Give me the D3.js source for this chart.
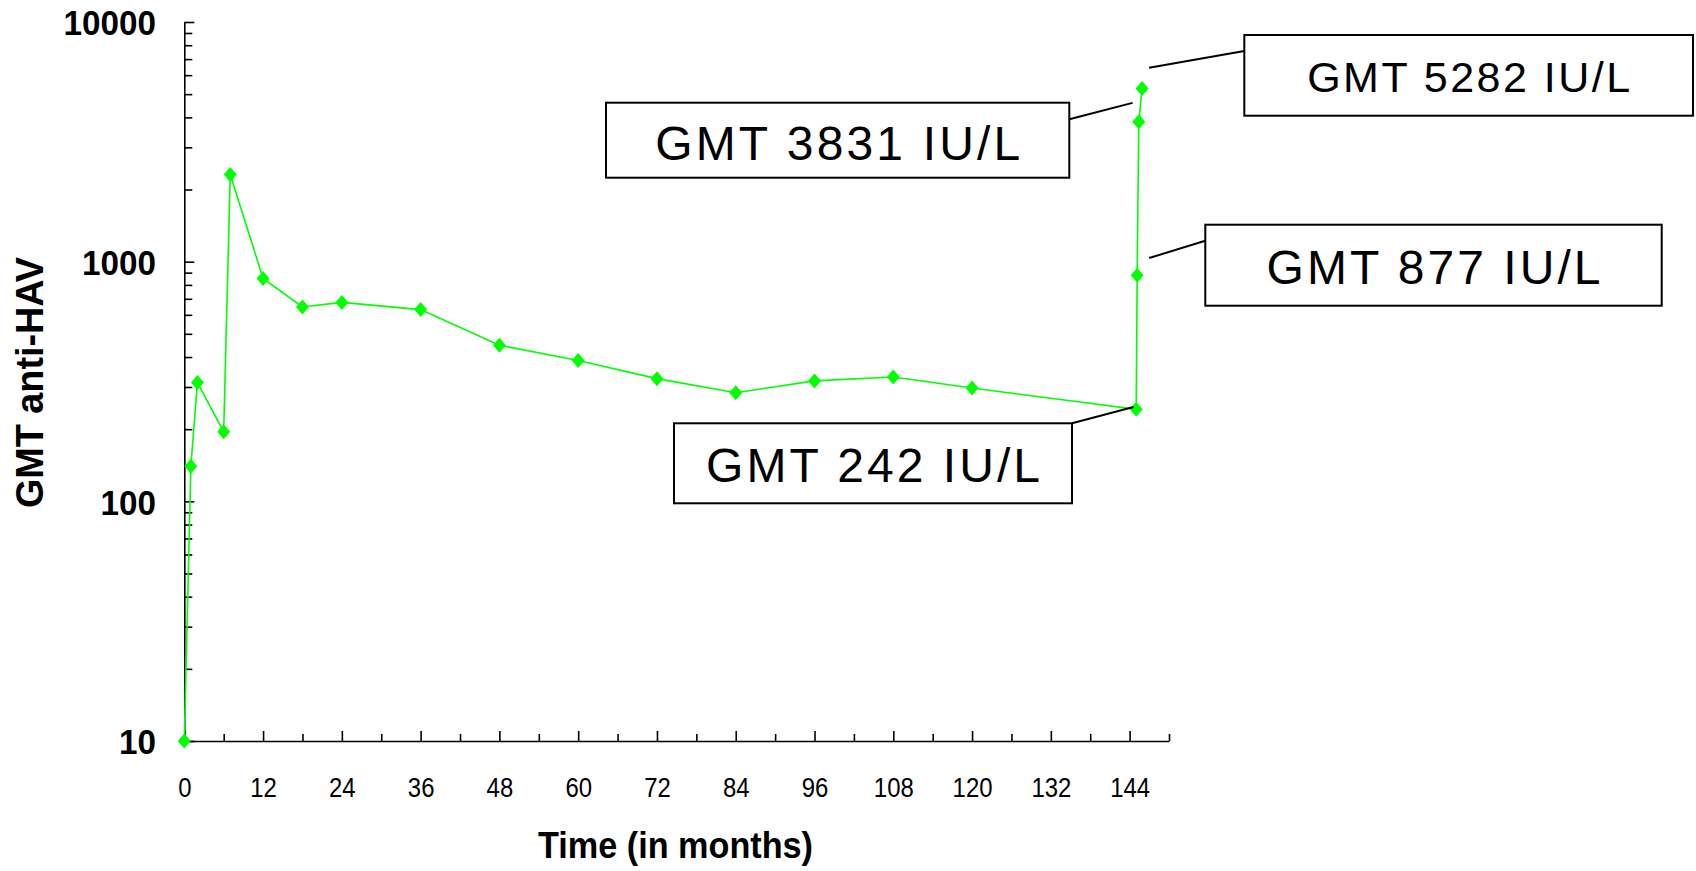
<!DOCTYPE html>
<html>
<head>
<meta charset="utf-8">
<script src="https://cdn.jsdelivr.net/npm/d3@7"></script>
<style>
  html, body { margin: 0; padding: 0; background: #fff; }
  svg { display: block; }
</style>
</head>
<body>
<svg id="chart" width="1696" height="871"></svg>
<script>
// ---- data ----
const months = [0, 1, 2, 6, 7, 12, 18, 24, 36, 48, 60, 72, 84, 96, 108, 120, 145, 145.15, 145.4, 145.9];
const gmt    = [10, 140, 313, 195, 2312, 851, 647, 676, 631, 448, 387, 325, 284, 318, 330, 297, 242, 877, 3831, 5282];
const xMajorTicks = [0, 12, 24, 36, 48, 60, 72, 84, 96, 108, 120, 132, 144];
const xMinorTicks = [6, 18, 30, 42, 54, 66, 78, 90, 102, 114, 126, 138, 150];
const yMajorTicks = [10, 100, 1000, 10000];
const yTickLabels = ["10", "100", "1000", "10000"];
const yMinorTicks = [20,30,40,50,60,70,80,90,200,300,400,500,600,700,800,900,2000,3000,4000,5000,6000,7000,8000,9000];
const annotationTexts = ["GMT 242 IU/L", "GMT 877 IU/L", "GMT 3831 IU/L", "GMT 5282 IU/L"];
const annotationIndex = [16, 17, 18, 19];
const xTitle = "Time (in months)";
const yTitle = "GMT anti-HAV";

// ---- layout ----
const svg = d3.select("#chart");
const x = d3.scaleLinear().domain([0, 150]).range([184.3, 1169]);
const y = d3.scaleLog().domain([10, 10000]).range([741, 22]);
const font = "'Liberation Sans', Arial, sans-serif";

// annotation box layout (pixels) + leader end offsets from the data point
const boxLayout = [
  { bx: 674,    by: 423.3, bw: 398,   bh: 80,   base: 481.7, len: 334, fs: 48, sx: 1072,   sy: 423.3, dx: -2.7, dy: -2.3 },
  { bx: 1205.3, by: 224.7, bw: 456.4, bh: 81,   base: 284,   len: 334, fs: 48, sx: 1205.3, sy: 240.7, dx: 12,   dy: -17.3 },
  { bx: 606,    by: 102.7, bw: 463.3, bh: 75,   base: 160,   len: 365, fs: 48, sx: 1069.3, sy: 119.3, dx: -6.3, dy: -19 },
  { bx: 1244.3, by: 35,    bw: 448.7, bh: 80.7, base: 92.3,  len: 323, fs: 43, sx: 1244.3, sy: 51,    dx: 7,    dy: -20.7 }
];

// ---- axes ----
const gx = svg.append("g").attr("transform", `translate(0,${y(10)})`);
gx.call(d3.axisBottom(x).tickValues(xMajorTicks).tickSizeInner(-10).tickSizeOuter(0).tickFormat(d => d));
gx.selectAll(".tick text")
  .attr("y", 56).attr("dy", null)
  .attr("font-family", font).attr("font-size", 28).attr("fill", "#000")
  .attr("textLength", d => String(d).length * 13.3)
  .attr("lengthAdjust", "spacingAndGlyphs");
const gxm = svg.append("g").attr("transform", `translate(0,${y(10)})`);
gxm.call(d3.axisBottom(x).tickValues(xMinorTicks).tickSizeInner(-7).tickSizeOuter(0).tickFormat(""));
gxm.select(".domain").remove();

const gy = svg.append("g").attr("transform", `translate(${x(0)},0)`);
gy.call(d3.axisLeft(y).tickValues(yMajorTicks).tickSizeInner(-10).tickSizeOuter(0)
  .tickFormat((d, i) => yTickLabels[i]));
gy.selectAll(".tick text")
  .attr("x", -28.3).attr("dy", "0.37em")
  .attr("font-family", font).attr("font-size", 35).attr("font-weight", "bold").attr("fill", "#000")
  .attr("textLength", (d, i) => yTickLabels[i].length * 18.5)
  .attr("lengthAdjust", "spacingAndGlyphs");
const gym = svg.append("g").attr("transform", `translate(${x(0)},0)`);
gym.call(d3.axisLeft(y).tickValues(yMinorTicks).tickSizeInner(-8).tickSizeOuter(0).tickFormat(""));
gym.select(".domain").remove();

svg.selectAll(".domain, .tick line").attr("stroke", "#000").attr("stroke-width", 1.6);

// axis titles
svg.append("text")
  .attr("x", 538).attr("y", 858)
  .attr("font-family", font).attr("font-size", 37).attr("font-weight", "bold")
  .attr("textLength", 275).attr("lengthAdjust", "spacingAndGlyphs")
  .text(xTitle);
svg.append("text")
  .attr("transform", "translate(42.5,508) rotate(-90)")
  .attr("font-family", font).attr("font-size", 39).attr("font-weight", "bold")
  .attr("textLength", 251).attr("lengthAdjust", "spacingAndGlyphs")
  .text(yTitle);

// ---- series ----
const pts = months.map((m, i) => [m, gmt[i]]);
svg.append("path")
  .datum(pts)
  .attr("fill", "none").attr("stroke", "#00ff00").attr("stroke-width", 1.6)
  .attr("d", d3.line().x(d => x(d[0])).y(d => y(d[1])));
const diamond = "M0,-7.5L6.5,0L0,7.5L-6.5,0Z";
svg.append("g").selectAll("path")
  .data(pts).join("path")
  .attr("transform", d => `translate(${x(d[0])},${y(d[1])})`)
  .attr("d", diamond)
  .attr("fill", "#00ff00");

// ---- annotations ----
const ann = svg.append("g");
annotationTexts.forEach((t, k) => {
  const L = boxLayout[k];
  const i = annotationIndex[k];
  const px = x(months[i]), py = y(gmt[i]);
  ann.append("line")
    .attr("x1", L.sx).attr("y1", L.sy)
    .attr("x2", px + L.dx).attr("y2", py + L.dy)
    .attr("stroke", "#000").attr("stroke-width", 2);
  ann.append("rect")
    .attr("x", L.bx).attr("y", L.by).attr("width", L.bw).attr("height", L.bh)
    .attr("fill", "#fff").attr("stroke", "#000").attr("stroke-width", 2);
  ann.append("text")
    .attr("x", L.bx + L.bw / 2).attr("y", L.base)
    .attr("text-anchor", "middle")
    .attr("font-family", font).attr("font-size", L.fs).attr("fill", "#000")
    .attr("textLength", L.len).attr("lengthAdjust", "spacing")
    .text(t);
});
</script>
</body>
</html>
